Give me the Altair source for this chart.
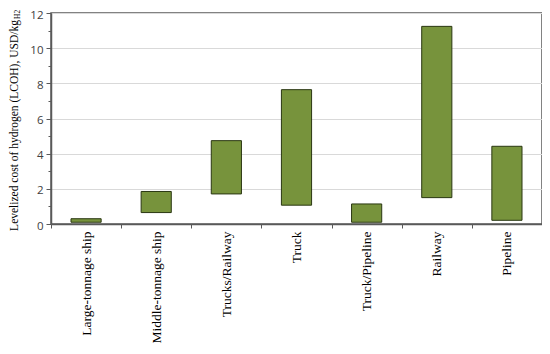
import altair as alt
import pandas as pd

categories = ["Large-tonnage ship", "Middle-tonnage ship", "Trucks/Railway", "Truck",
              "Truck/Pipeline", "Railway", "Pipeline"]
lcoh_low = [0.10, 0.65, 1.71, 1.07, 0.10, 1.50, 0.21]
lcoh_high = [0.30, 1.85, 4.74, 7.64, 1.14, 11.24, 4.42]
y_tick_values = [0, 0.5, 1, 1.5, 2, 2.5, 3, 3.5, 4, 4.5, 5, 5.5, 6, 6.5, 7, 7.5, 8, 8.5,
                 9, 9.5, 10, 10.5, 11, 11.5, 12]

df = pd.DataFrame({"category": categories, "low": lcoh_low, "high": lcoh_high})

axis_color = "#595959"
serif = "Liberation Serif"

bars = alt.Chart(df).mark_bar(
    width=alt.RelativeBandSize(0.43),
    color="#77933C",
    stroke="#2A3712",
    strokeWidth=1,
).encode(
    x=alt.X("category:N", sort=categories, title=None,
            scale=alt.Scale(paddingInner=0, paddingOuter=0),
            axis=alt.Axis(labelAngle=270, tickBand="extent", labelFont=serif,
                          labelFontSize=13.5, labelColor="#000000", tickSize=4,
                          labelPadding=3, domainColor=axis_color, domainWidth=1.5,
                          tickColor=axis_color, grid=False)),
    y=alt.Y("low:Q", title="Levelized cost of hydrogen (LCOH), USD/kg",
            scale=alt.Scale(domain=[0, 12], nice=False),
            axis=alt.Axis(values=y_tick_values, format="d",
                          labelExpr="datum.value % 2 === 0 ? datum.label : ''",
                          tickSize={"condition": {"test": "datum.value % 2 === 0", "value": 5}, "value": 3},
                          gridOpacity={"condition": {"test": "datum.value % 2 === 0", "value": 1}, "value": 0},
                          gridColor="#D9D9D9", labelFont="Open Sans", labelFontSize=11.5,
                          labelColor="#404040", labelPadding=3,
                          labelBaseline="top", labelOffset=-4,
                          domainColor=axis_color, domainWidth=1.5, tickColor=axis_color,
                          titleFont=serif, titleFontSize=11.5, titleFontWeight="normal",
                          titleColor="#000000", titleAngle=270, titleBaseline="alphabetic",
                          titleAlign="center", titleX=-34, titleY=112)),
    y2="high:Q",
)

sub = alt.Chart(pd.DataFrame({"t": ["H2"]})).mark_text(
    angle=270, align="left", baseline="alphabetic", font=serif, fontSize=7.5, color="#000000"
).encode(
    text="t:N",
    x=alt.value(-31.5),
    y=alt.value(6),
)

chart = alt.layer(bars, sub).properties(
    width=491, height=211,
    padding={"left": 43, "top": 5, "right": 0, "bottom": 122},
    autosize="none",
).configure_view(stroke=axis_color, strokeWidth=1.5)

chart.save("out.html", embed_options={"renderer": "svg", "actions": False})
